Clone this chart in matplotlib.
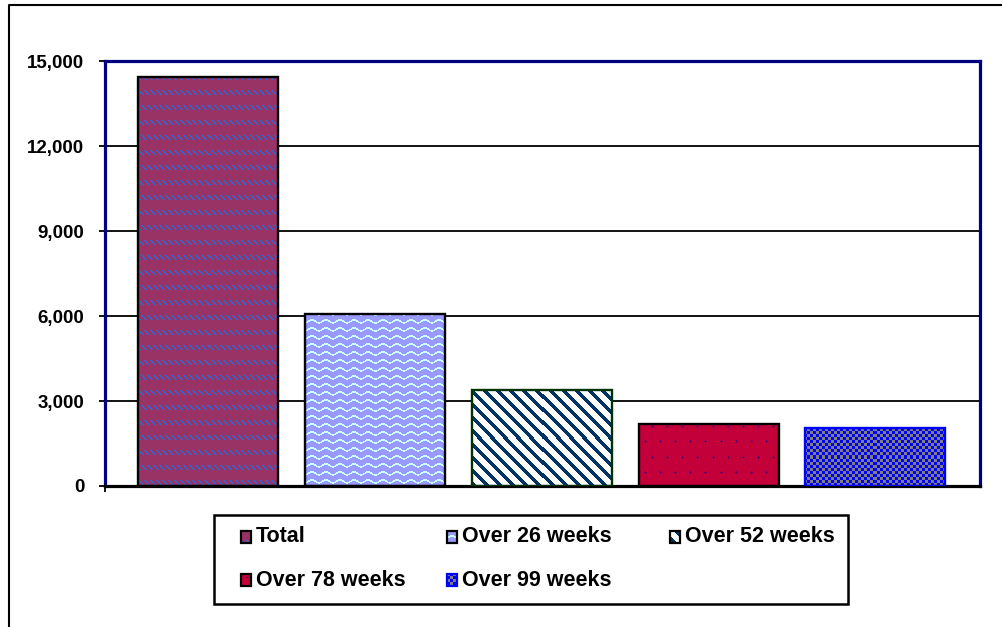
import numpy as np
import matplotlib
matplotlib.use("Agg")
import matplotlib.pyplot as plt
from matplotlib.patches import Rectangle
from matplotlib.lines import Line2D

# ---- data ----
categories = ["Total", "Over 26 weeks", "Over 52 weeks", "Over 78 weeks", "Over 99 weeks"]
values = [14430, 6070, 3390, 2190, 2050]
y_ticks = [0, 3000, 6000, 9000, 12000, 15000]
y_tick_labels = ["0", "3,000", "6,000", "9,000", "12,000", "15,000"]

W, H = 1002, 627
plt.rcParams['font.family'] = ['Liberation Sans', 'DejaVu Sans']


def fx(px):
    return px / W


def fy(py):
    return 1 - py / H


# ---- pattern fills (pixel textures, X/Y in screen pixels, Y downward) ----
def rgb(h):
    h = h.lstrip('#')
    return np.array([int(h[i:i + 2], 16) for i in (0, 2, 4)], dtype=np.uint8)


def pat_total(X, Y):
    img = np.empty(X.shape + (3,), np.uint8)
    img[:] = rgb('#993366')
    mask = ((Y % 15) < 5) & (((X - Y) % 6) < 2)
    img[mask] = rgb('#3366CC')
    return img


def pat_wave(X, Y):
    img = np.empty(X.shape + (3,), np.uint8)
    img[:] = rgb('#9999FF')
    yw = Y + 1.6 * np.sin(2 * np.pi * X / 14.0)
    mask = (yw % 8) < 1.7
    img[mask] = rgb('#CCFFFF')
    return img


def pat_diag(X, Y):
    img = np.empty(X.shape + (3,), np.uint8)
    img[:] = rgb('#FFFFFF')
    mask = ((X - Y) % 13) < 5
    img[mask] = rgb('#003366')
    return img


def pat_red(X, Y):
    img = np.empty(X.shape + (3,), np.uint8)
    img[:] = rgb('#C4003A')
    cy = (Y // 15)
    dx = (X + 7 * (cy % 2)) % 15 - 7
    dy = Y % 15 - 7
    plus = ((np.abs(dx) <= 1) & (dy == 0)) | ((dx == 0) & (np.abs(dy) <= 1))
    img[plus] = rgb('#660066')
    return img


def pat_blue(X, Y):
    img = np.empty(X.shape + (3,), np.uint8)
    img[:] = rgb('#0000FF')
    mask = (((X // 3) + (Y // 3)) % 2) == 0
    img[mask] = rgb('#808080')
    return img


patterns = [pat_total, pat_wave, pat_diag, pat_red, pat_blue]
edge_colors = ['black', 'black', '#003300', 'black', '#0000FF']


def texture(func, x0, y0, w, h):
    xs = np.arange(int(round(x0)), int(round(x0)) + w)
    ys = np.arange(int(round(y0)), int(round(y0)) + h)
    X, Y = np.meshgrid(xs, ys)
    return func(X, Y)


# ---- figure & axes ----
fig = plt.figure(figsize=(W / 100, H / 100), dpi=100)
ax = fig.add_axes([fx(105), fy(486), 875 / W, 425 / H])

x = np.arange(len(categories))
bar_w = 0.84
xlim = (-0.62, 4.627)
ax.set_xlim(*xlim)
ax.set_ylim(0, 15000)

bars = ax.bar(x, values, width=bar_w, facecolor='none',
              edgecolor=edge_colors, linewidth=1.7, zorder=3)

for bar, func in zip(bars, patterns):
    bx0, by0 = bar.get_x(), bar.get_y()
    bx1, by1 = bx0 + bar.get_width(), by0 + bar.get_height()
    (px0, py0), (px1, py1) = ax.transData.transform([(bx0, by0), (bx1, by1)])
    w = max(int(round(px1 - px0)), 1)
    h = max(int(round(py1 - py0)), 1)
    tex = texture(func, px0, H - py1, w, h)
    im = ax.imshow(tex, extent=(bx0, bx1, by0, by1), origin='upper',
                   aspect='auto', interpolation='nearest', zorder=2)
    im.set_clip_path(bar)

ax.set_xlim(*xlim)
ax.set_ylim(0, 15000)

# grid & spines
ax.set_axisbelow(True)
ax.yaxis.grid(True, color='black', linewidth=1.3)
ax.set_yticks(y_ticks)
ax.set_yticklabels(y_tick_labels, fontweight='bold', fontsize=13.5)
ax.set_xticks([xlim[0]])
ax.set_xticklabels([''])
ax.tick_params(axis='y', direction='out', length=4, width=1.3, pad=11, colors='black')
ax.tick_params(axis='x', direction='out', length=4, width=1.3)
for side in ['left', 'top', 'right']:
    ax.spines[side].set_color('#000080')
    ax.spines[side].set_linewidth(2.3)
ax.spines['bottom'].set_color('black')
ax.spines['bottom'].set_linewidth(2.3)

# ---- legend ----
fig.patches.append(Rectangle((fx(214), fy(604)), 634 / W, 89 / H, fill=False,
                             edgecolor='black', linewidth=1.8,
                             transform=fig.transFigure, zorder=5))
legend_pos = [(241, 537), (447, 537), (670, 537), (241, 580), (447, 580)]
sw, sh = 10, 12
for (lx, ly), name, func, ec in zip(legend_pos, categories, patterns, edge_colors):
    top = ly - sh // 2
    tex = texture(func, lx, top, sw, sh)
    fig.figimage(tex, xo=lx, yo=H - top - sh, origin='upper', zorder=6)
    fig.patches.append(Rectangle((fx(lx), fy(top + sh)), sw / W, sh / H, fill=False,
                                 edgecolor='black' if ec != '#0000FF' else ec,
                                 linewidth=1.6, transform=fig.transFigure, zorder=7))
    fig.text(fx(lx + 15), fy(ly), name, ha='left', va='center',
             fontsize=15.5, fontweight='bold', zorder=8)

# outer frame
fig.lines.append(Line2D([fx(9), fx(9), fx(1010)], [fy(640), fy(5), fy(5)],
                        color='black', linewidth=1.5, transform=fig.transFigure))

fig.savefig('out.png', dpi=100)
